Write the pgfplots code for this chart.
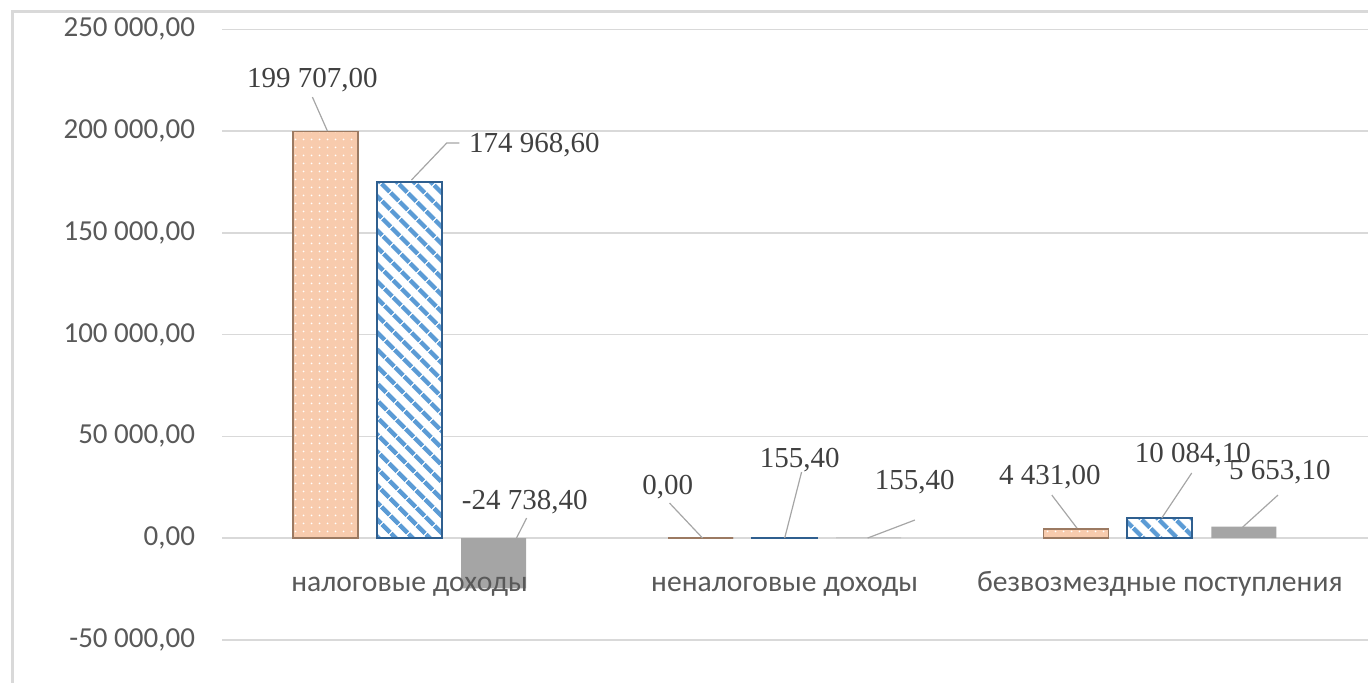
\documentclass[border=0pt]{standalone}
\usepackage{pgfplots}
\pgfplotsset{compat=1.18}
\usetikzlibrary{patterns.meta}
\usepackage{fontspec}
\setmainfont{Liberation Serif}
\newfontfamily\carlito{Carlito}

\definecolor{peach}{HTML}{F8CBAD}
\definecolor{peachedge}{HTML}{9C7A62}
\definecolor{stripeblue}{HTML}{5B9BD5}
\definecolor{blueedge}{HTML}{2F5F8F}
\definecolor{barggray}{HTML}{A5A5A5}
\definecolor{gridgray}{HTML}{D9D9D9}
\definecolor{ticktext}{HTML}{595959}
\definecolor{labeltext}{HTML}{404040}
\definecolor{leadergray}{HTML}{A6A6A6}

\begin{document}
\begin{tikzpicture}
\begin{scope}[x=0.5pt,y=-0.5pt]
  \draw[gridgray, line width=1.5pt] (12,700) -- (12,12) -- (1390,12);
\end{scope}
\begin{axis}[
    set layers,
    at={(111pt,-319.9pt)}, anchor=south west,
    scale only axis,
    width=573pt, height=305.25pt,
    xmin=-0.5, xmax=2.555,
    ymin=-50000, ymax=250000,
    scaled y ticks=false,
    axis line style={draw=none},
    tick style={draw=none},
    ymajorgrids,
    grid style={gridgray, line width=0.7pt},
    ybar=9.5pt,
    bar width=32.5pt,
    xtick={0,1,2},
    xticklabels={налоговые доходы, неналоговые доходы, безвозмездные поступления},
    xticklabel style={font=\carlito\fontsize{14.8}{17}\selectfont, text=ticktext, anchor=base, yshift=28.5pt},
    ytick={-50000,0,50000,100000,150000,200000,250000},
    yticklabels={{-50 000,00},{0,00},{50 000,00},{100 000,00},{150 000,00},{200 000,00},{250 000,00}},
    yticklabel style={font=\carlito\fontsize{14.5}{16}\selectfont, text=ticktext, xshift=-10pt},
    clip=false,
]
% bars sit above the grid but below the category labels
\addplot[on layer=axis ticks, fill=peach, draw=peachedge, line width=0.8pt,
    postaction={pattern={Dots[distance=4pt,radius=0.55pt]}, pattern color=white}]
    coordinates {(0,199707) (1,0) (2,4431)};
\addplot[on layer=axis ticks, fill=white, draw=blueedge, line width=1pt,
    postaction={pattern={Lines[angle=-45,distance=6.4pt,line width=2.5pt]}, pattern color=stripeblue}]
    coordinates {(0,174968.6) (1,155.4) (2,10084.1)};
\addplot[on layer=axis ticks, fill=barggray, draw=none]
    coordinates {(0,-24738.4) (1,155.4) (2,5653.1)};

% data labels with leader lines
\tikzset{lbl/.style={font=\fontsize{14.5}{16}\selectfont, text=labeltext, inner sep=0pt},
         leader/.style={leadergray, line width=0.6pt}}
\node[lbl] at (axis cs:-0.259,225060) {199 707,00};
\draw[leader] (axis cs:-0.259,216700) -- (axis cs:-0.219,200000);
\node[lbl] at (axis cs:0.333,193120) {174 968,60};
\draw[leader] (axis cs:0.005,175920) -- (axis cs:0.099,194100) -- (axis cs:0.133,194100);
\node[lbl] at (axis cs:0.307,17690) {-24 738,40};
\draw[leader] (axis cs:0.285,0) -- (axis cs:0.312,9830);

\node[lbl] at (axis cs:0.688,25060) {0,00};
\draw[leader] (axis cs:0.693,17200) -- (axis cs:0.781,0);
\node[lbl] at (axis cs:1.04,38330) {155,40};
\draw[leader] (axis cs:1.045,32430) -- (axis cs:1.0,0);
\node[lbl] at (axis cs:1.347,27520) {155,40};
\draw[leader] (axis cs:1.347,8850) -- (axis cs:1.221,0);

\node[lbl] at (axis cs:1.707,29980) {4 431,00};
\draw[leader] (axis cs:1.712,21130) -- (axis cs:1.779,4914);
\node[lbl] at (axis cs:2.088,40790) {10 084,10};
\draw[leader] (axis cs:2.085,31940) -- (axis cs:2.005,9830);
\node[lbl] at (axis cs:2.32,32430) {5 653,10};
\draw[leader] (axis cs:2.315,21130) -- (axis cs:2.221,5400);
\end{axis}
\pgfresetboundingbox
\path[use as bounding box] (0,0) rectangle (684pt,-341.5pt);
\end{tikzpicture}
\end{document}
